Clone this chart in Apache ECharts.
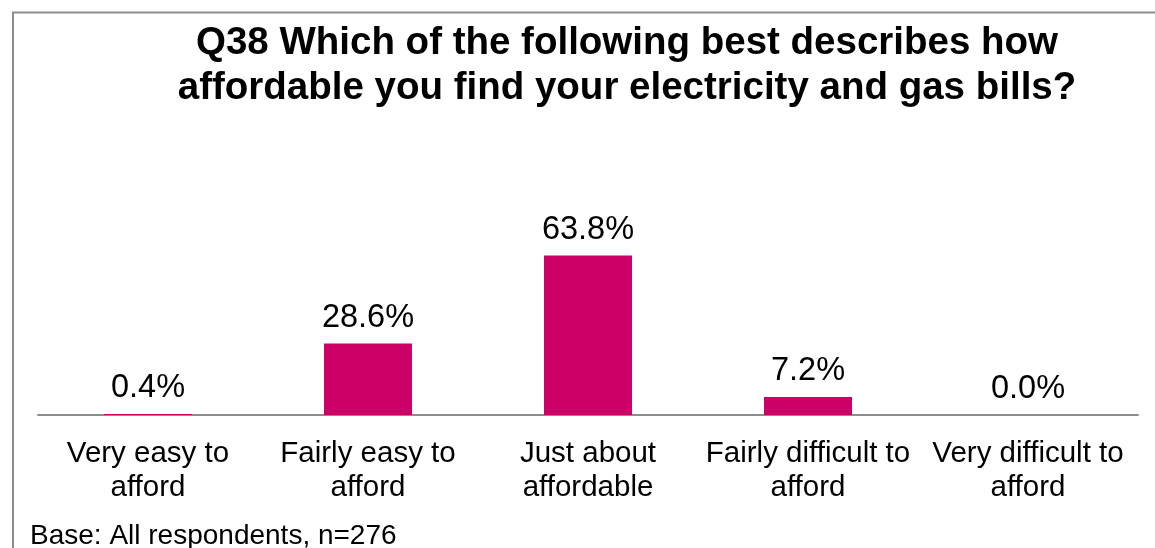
<!DOCTYPE html>
<html>
<head>
<meta charset="utf-8">
<script src="https://cdn.jsdelivr.net/npm/echarts@6/dist/echarts.min.js"></script>
<style>
  html, body { margin: 0; padding: 0; background: #fff; }
  #chart { width: 1155px; height: 548px; }
</style>
</head>
<body>
<div id="chart"></div>
<script>
// Affordability of energy bills, share of respondents (%)
const categories = [
  'Very easy to\nafford',
  'Fairly easy to\nafford',
  'Just about\naffordable',
  'Fairly difficult to\nafford',
  'Very difficult to\nafford'
];
const shares = [0.4, 28.6, 63.8, 7.2, 0.0];

const titleText = 'Q38 Which of the following best describes how\naffordable you find your electricity and gas bills?';
const baseNote = 'Base: All respondents, n=276';

const FONT = '"Liberation Sans", Arial, sans-serif';
const BAR = '#CC0066';

const chart = echarts.init(document.getElementById('chart'));
chart.setOption({
  animation: false,
  backgroundColor: '#fff',
  title: {
    text: titleText,
    left: 622,
    top: 16,
    textAlign: 'center',
    textStyle: {
      fontFamily: FONT,
      fontSize: 38.5,
      fontWeight: 'bold',
      color: '#000',
      lineHeight: 45
    }
  },
  graphic: [
    {
      type: 'rect',
      shape: { x: 13, y: 12.5, width: 1300, height: 700 },
      style: { fill: 'none', stroke: '#8c8c8c', lineWidth: 2 },
      silent: true
    },
    {
      type: 'text',
      left: 30,
      top: 522,
      style: {
        text: baseNote,
        fontFamily: FONT,
        fontSize: 28,
        fill: '#000'
      }
    }
  ],
  grid: { left: 38, right: 17, top: 240, bottom: 133 },
  xAxis: {
    type: 'category',
    data: categories,
    axisLine: { lineStyle: { color: '#8c8c8c', width: 2 } },
    axisTick: { show: false },
    axisLabel: {
      interval: 0,
      margin: 22,
      fontFamily: FONT,
      fontSize: 29.5,
      lineHeight: 34,
      color: '#000'
    }
  },
  yAxis: {
    type: 'value',
    min: 0,
    max: 70,
    show: false,
    splitLine: { show: false }
  },
  series: [{
    type: 'bar',
    data: shares,
    barWidth: '40%',
    itemStyle: { color: BAR },
    label: {
      show: true,
      position: 'top',
      distance: 9,
      formatter: p => p.value.toFixed(1) + '%',
      fontFamily: FONT,
      fontSize: 32.5,
      color: '#000'
    }
  }]
});
</script>
</body>
</html>
